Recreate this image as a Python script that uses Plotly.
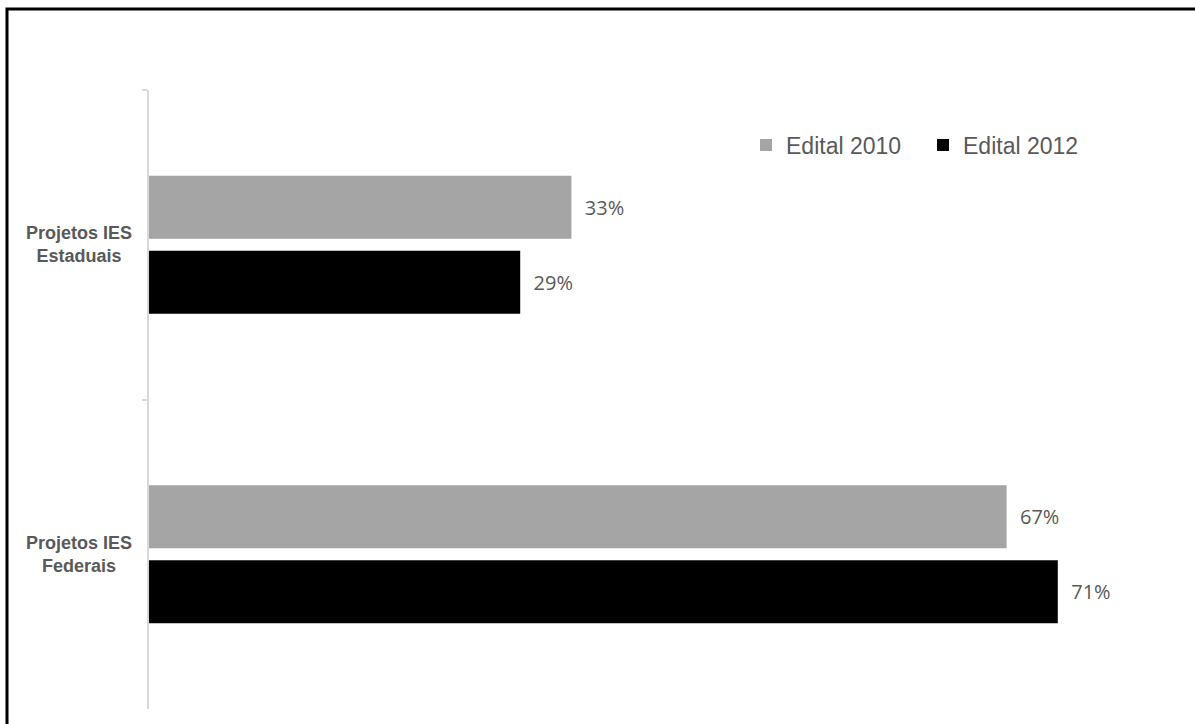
import plotly.graph_objects as go

# Categories (top to bottom) and the two editions compared
categorias = ["Projetos IES<br>Estaduais", "Projetos IES<br>Federais"]
edital_2010 = [33, 67]
edital_2012 = [29, 71]
series = ["Edital 2010", "Edital 2012"]

W, H = 1195, 724
ML, MR, MT, MB = 149, 22, 90, 15
XMAX = 80

pw = W - ML - MR
ph = H - MT - MB

fig = go.Figure()
for nome, vals, cor in [(series[0], edital_2010, "#a5a5a5"),
                        (series[1], edital_2012, "#000000")]:
    fig.add_trace(go.Bar(
        y=categorias, x=vals, name=nome, orientation="h",
        marker=dict(color=cor, line=dict(width=0)),
        texttemplate="\u00a0\u00a0%{x}%", textposition="outside",
        textfont=dict(family="Open Sans", size=20, color="#595959"),
        cliponaxis=False,
    ))

# category labels, centred line by line to the left of the axis
for cat in categorias:
    fig.add_annotation(
        text=cat, xref="paper", yref="y", x=(79 - ML) / pw, y=cat,
        xanchor="center", yanchor="middle", align="center", showarrow=False,
        font=dict(family="Liberation Sans, Arial", size=18, color="#595959",
                  weight="bold"),
    )

# outer frame of the chart
fig.add_shape(type="rect", xref="paper", yref="paper",
              x0=(7 - ML) / pw, x1=(W + 20 - ML) / pw,
              y0=-(MB + 20) / ph, y1=(H - MB - 9) / ph,
              line=dict(color="#000000", width=3), fillcolor="rgba(0,0,0,0)")

fig.update_layout(
    width=W, height=H,
    margin=dict(l=ML, r=MR, t=MT, b=MB),
    paper_bgcolor="white", plot_bgcolor="white",
    barmode="group", bargap=0.515, bargroupgap=0.16,
    showlegend=True,
    legend=dict(orientation="h", x=(746 - ML) / pw, xanchor="left",
                y=(H - MB - 145) / ph, yanchor="middle",
                entrywidth=132,
                font=dict(family="Liberation Sans, Arial", size=23, color="#595959"),
                traceorder="normal", bgcolor="rgba(0,0,0,0)"),
    xaxis=dict(range=[0, XMAX], showgrid=False, zeroline=False,
               showticklabels=False, showline=False, ticks=""),
    yaxis=dict(categoryorder="array", categoryarray=categorias,
               range=[1.5, -0.5], showgrid=False, zeroline=False,
               showline=True, linecolor="#d9d9d9", linewidth=2,
               ticks="outside", tickson="boundaries", ticklen=5,
               tickcolor="#d9d9d9", tickwidth=2, showticklabels=False),
)

fig.write_html("out.html")
